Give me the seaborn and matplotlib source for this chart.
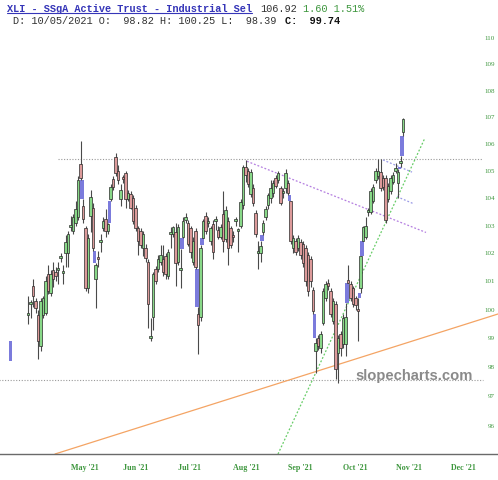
import numpy as np
import pandas as pd
import matplotlib
matplotlib.use("Agg")
import matplotlib.pyplot as plt
from matplotlib.ticker import NullLocator
from matplotlib.lines import Line2D
from matplotlib.transforms import ScaledTranslation
import seaborn as sns

# ---- daily candles (XLI, Apr 9 .. Nov 5 2021) ----
opens = [99.8, 100.2, 100.85, 100.3, 99.8, 98.75, 99.8, 99.9, 101.25, 100.6,
         101.4, 101.35, 101.4, 101.85, 101.3, 102.0, 102.0, 102.95, 102.8, 103.1,
         103.3, 105.25, 103.7, 102.9, 100.75, 103.35, 103.65, 101.1, 101.85, 102.4,
         102.9, 103.25, 102.8, 103.95, 104.7, 105.5, 105.0, 103.95, 104.75, 104.9,
         103.95, 104.15, 104.0, 103.65, 102.9, 102.8, 102.2, 102.2, 101.7, 99.0,
         99.75, 101.45, 101.45, 101.7, 101.8, 101.9, 101.2, 102.7, 102.7, 102.75,
         101.7, 101.4, 102.6, 103.2, 103.1, 102.9, 101.7, 102.8, 99.85, 99.75,
         102.55, 103.35, 103.1, 102.45, 103.05, 103.15, 102.85, 102.6, 103.4, 102.5,
         103.15, 102.9, 102.65, 103.15, 102.8, 103.0, 103.75, 105.15, 105.0, 104.15,
         104.35, 103.45, 102.0, 102.0, 102.75, 103.3, 103.75, 104.0, 104.2, 104.75,
         104.65, 104.35, 104.2, 104.35, 104.55, 103.9, 102.2, 102.45, 102.2, 102.4,
         102.35, 102.2, 101.95, 101.8, 100.7, 98.55, 99.0, 98.65, 99.55, 100.4,
         100.95, 100.65, 99.6, 100.2, 98.5, 99.15, 98.8, 98.82, 101.05, 100.9,
         100.75, 100.4, 100.0, 100.75, 102.45, 102.6, 103.5, 103.5, 103.9, 104.65,
         104.8, 104.95, 104.75, 104.75, 103.95, 104.25, 104.6, 105.0, 104.55, 105.3,
         106.45]
highs = [100.5, 100.35, 101.1, 100.4, 100.0, 100.4, 100.5, 101.2, 101.6, 101.4,
         101.7, 101.5, 101.7, 102.0, 101.6, 102.65, 102.8, 103.35, 103.4, 103.9,
         104.8, 106.1, 103.95, 103.0, 102.7, 104.3, 103.8, 101.65, 102.1, 102.7,
         103.3, 103.6, 103.1, 104.5, 104.8, 105.65, 105.2, 104.5, 104.85, 105.0,
         104.3, 104.25, 104.1, 103.75, 103.0, 102.9, 102.8, 102.35, 101.8, 99.7,
         101.35, 101.55, 101.95, 102.3, 102.3, 102.0, 102.15, 102.95, 103.0, 103.1,
         103.05, 102.15, 103.3, 103.45, 103.2, 103.0, 102.6, 102.9, 100.1, 102.3,
         103.25, 103.5, 103.3, 103.0, 103.2, 103.35, 103.0, 103.05, 104.25, 103.7,
         103.3, 103.0, 102.8, 103.3, 102.9, 103.95, 105.2, 105.4, 105.1, 105.05,
         104.5, 103.55, 102.45, 102.45, 103.2, 103.7, 104.2, 104.65, 104.65, 104.85,
         105.0, 104.45, 104.35, 105.05, 104.65, 103.9, 102.65, 102.55, 102.65, 102.5,
         102.45, 102.3, 102.05, 101.9, 100.8, 99.0, 99.1, 99.25, 100.75, 101.0,
         101.1, 100.75, 100.4, 100.3, 99.1, 99.25, 99.85, 100.25, 101.6, 101.0,
         100.85, 100.5, 100.4, 101.9, 103.0, 103.3, 103.65, 104.35, 104.5, 105.1,
         105.45, 105.45, 104.85, 104.85, 104.55, 104.85, 104.95, 105.3, 105.05, 105.55,
         106.98]
lows = [99.5, 99.7, 100.1, 99.9, 98.3, 98.55, 99.7, 99.8, 100.55, 100.5,
        100.8, 101.0, 100.9, 101.7, 100.9, 101.5, 101.5, 102.8, 102.7, 103.0,
        103.2, 104.65, 103.1, 100.65, 100.6, 102.75, 102.1, 100.05, 101.5, 102.05,
        102.8, 102.6, 102.7, 103.9, 104.3, 104.8, 104.5, 103.7, 104.55, 103.65,
        103.9, 103.6, 103.05, 102.8, 101.95, 102.2, 101.9, 101.7, 99.35, 98.9,
        99.3, 100.9, 101.35, 101.6, 101.2, 101.1, 101.1, 102.2, 102.6, 100.85,
        101.6, 100.75, 102.55, 103.1, 102.25, 101.85, 101.6, 101.45, 98.45, 99.6,
        102.55, 102.7, 102.95, 102.3, 101.8, 102.85, 102.5, 102.5, 102.05, 102.4,
        101.6, 102.2, 102.4, 103.0, 102.05, 102.9, 103.6, 104.6, 104.4, 104.05,
        103.7, 102.6, 101.45, 101.7, 102.65, 103.2, 103.6, 103.8, 104.05, 104.35,
        104.55, 103.75, 104.0, 104.2, 104.1, 102.35, 102.0, 101.95, 102.1, 101.8,
        101.5, 100.85, 100.5, 100.8, 99.85, 97.8, 98.6, 98.5, 99.45, 100.3,
        100.7, 99.75, 99.5, 97.6, 97.45, 98.4, 98.65, 98.39, 100.95, 100.3,
        100.1, 100.0, 98.9, 100.6, 102.45, 102.5, 103.35, 103.4, 103.8, 104.55,
        104.7, 104.25, 104.3, 103.1, 103.85, 104.15, 104.5, 104.9, 104.0, 105.15,
        106.3]
closes = [99.85, 100.25, 100.5, 100.05, 98.9, 100.3, 100.4, 101.0, 100.65, 101.25,
          101.1, 101.2, 101.45, 101.9, 101.35, 102.4, 102.7, 103.0, 103.3, 103.6,
          104.65, 104.75, 103.25, 100.75, 102.55, 104.05, 102.2, 101.6, 101.8, 102.45,
          103.15, 102.8, 103.05, 104.4, 104.4, 104.9, 104.65, 104.3, 104.7, 103.95,
          104.2, 103.65, 103.15, 102.9, 102.45, 102.3, 102.7, 101.85, 100.2, 99.05,
          101.25, 101.0, 101.8, 101.95, 101.35, 101.25, 102.05, 102.75, 102.95, 101.65,
          102.95, 101.45, 103.15, 103.3, 102.35, 102.05, 102.45, 101.5, 99.45, 102.2,
          103.15, 102.8, 103.15, 102.9, 102.05, 103.2, 102.6, 102.95, 102.45, 103.55,
          102.2, 102.3, 102.6, 103.2, 102.85, 103.85, 105.15, 104.85, 104.5, 104.95,
          103.8, 102.7, 102.05, 102.25, 103.1, 103.6, 104.1, 104.35, 104.55, 104.45,
          104.9, 103.8, 104.25, 104.9, 104.2, 102.45, 102.55, 102.05, 102.55, 101.95,
          101.65, 101.0, 100.65, 101.0, 99.95, 98.85, 98.75, 99.15, 100.65, 100.9,
          100.85, 99.85, 100.3, 97.95, 99.0, 98.65, 99.7, 99.74, 100.95, 100.4,
          100.2, 100.15, 99.95, 101.9, 102.95, 103.0, 103.55, 104.25, 104.4, 105.0,
          105.0, 104.35, 104.4, 103.2, 104.45, 104.75, 104.85, 105.1, 104.95, 105.32,
          106.92]
last_day = "2021-11-05"

# open price gaps (blue boxes): slot between candles, low, high
gap_pos = [-7, 21.5, 26.5, 32.5, 61.5, 67.5, 69.5, 93.5, 104.5, 114.5, 127.5, 132.5, 133.5, 148.5, 149.5]
gap_low = [98.2, 103.95, 101.65, 103.1, 102.15, 100.1, 102.3, 102.45, 103.9, 99.0, 100.25, 100.4, 101.9, 105.05, 105.55]
gap_high = [98.9, 104.65, 102.1, 103.9, 102.55, 101.45, 102.55, 102.65, 104.1, 99.85, 100.95, 100.6, 102.45, 105.15, 106.3]

# drawn lines: bar position and price at each end
resist_x, resist_y = [12, 182], [105.45, 105.45]
support_x, support_y = [-12, 182], [97.55, 97.55]
channel_x, channel_y = [87.6, 159.2], [105.35, 102.75]
chan_top_x, chan_top_y = [142, 153.6], [105.4, 104.95]
chan_bot_x, chan_bot_y = [147.6, 154], [104.05, 103.8]
uptrend_x, uptrend_y = [100, 158.8], [95.06, 106.22]
longtrend_x, longtrend_y = [10.8, 188], [95.06, 99.85]

month_labels = ["May '21", "Jun '21", "Jul '21", "Aug '21", "Sep '21", "Oct '21", "Nov '21", "Dec '21"]
month_starts = ["2021-05-03", "2021-06-01", "2021-07-01", "2021-08-02",
                "2021-09-01", "2021-10-01", "2021-11-01", "2021-12-01"]
y_ticks = list(range(96, 111))

# ---- build frame ----
days = pd.bdate_range(end=last_day, periods=len(closes))
df = pd.DataFrame({"day": days, "open": opens, "high": highs, "low": lows, "close": closes})
df["pos"] = np.arange(len(df))
all_days = pd.bdate_range(start=days[0], end="2021-12-31")
month_pos = [all_days.get_loc(pd.Timestamp(m)) for m in month_starts]

sns.set_theme(style="white")
GREEN_TXT = "#3d963d"
UP = "#88d888"
DOWN = "#dc9a9a"
GAP = "#7b7bdc"

fig = plt.figure(figsize=(4.98, 4.80), dpi=100)
ax = fig.add_axes([0, 1 - 454 / 480, 1, (454 - 30) / 480])
ax.set_yscale("log")
ax.set_xlim(-11.2, 188)
ax.set_ylim(95.06, 110.32)

# reference lines
ax.plot(resist_x, resist_y, color="#9a9a9a", lw=0.8, ls=(0, (1, 1.5)), zorder=1)
ax.plot(support_x, support_y, color="#9a9a9a", lw=0.8, ls=(0, (1, 1.5)), zorder=1)
sns.lineplot(x=channel_x, y=channel_y, ax=ax, color="#b47ee0", lw=0.9, ls=(0, (1.5, 1.5)), zorder=1)
sns.lineplot(x=chan_top_x, y=chan_top_y, ax=ax, color="#9a9ae6", lw=0.9, ls=(0, (1.5, 1.5)), zorder=1)
sns.lineplot(x=chan_bot_x, y=chan_bot_y, ax=ax, color="#9a9ae6", lw=0.9, ls=(0, (1.5, 1.5)), zorder=1)
sns.lineplot(x=uptrend_x, y=uptrend_y, ax=ax, color="#66cc66", lw=0.9, ls=(0, (1.5, 1.5)), zorder=1)
sns.lineplot(x=longtrend_x, y=longtrend_y, ax=ax, color="#f4a464", lw=0.9, zorder=1)

# gaps
gap_h = np.array(gap_high) - np.array(gap_low)
ax.bar(gap_pos, gap_h, bottom=gap_low, width=1.4, color=GAP, edgecolor="none", zorder=2)

# candles
up = df["close"] >= df["open"]
body_lo = df[["open", "close"]].min(axis=1)
body_h = (df["close"] - df["open"]).abs().clip(lower=0.07)
ax.vlines(df["pos"], df["low"], df["high"], color="#4a4a4a", lw=0.8, zorder=3)
ax.bar(df["pos"][up], body_h[up], bottom=body_lo[up], width=0.95,
       color=UP, edgecolor="#2a2a2a", linewidth=0.5, zorder=4)
ax.bar(df["pos"][~up], body_h[~up], bottom=body_lo[~up], width=0.95,
       color=DOWN, edgecolor="#2a2a2a", linewidth=0.5, zorder=4)

# axes styling
for side in ["top", "left", "right"]:
    ax.spines[side].set_visible(False)
ax.spines["bottom"].set_color("#6a6a6a")
ax.spines["bottom"].set_linewidth(1.0)
ax.grid(False)

ax.yaxis.tick_right()
ax.set_yticks(y_ticks)
ax.set_yticklabels([str(v) for v in y_ticks])
ax.yaxis.set_minor_locator(NullLocator())
ax.tick_params(axis="y", length=0, pad=-2.2, labelsize=5, labelcolor=GREEN_TXT)
for lbl in ax.get_yticklabels():
    lbl.set_ha("right")
    lbl.set_family("Liberation Serif")

ax.set_xticks(month_pos)
ax.set_xticklabels(month_labels)
ax.xaxis.set_minor_locator(NullLocator())
ax.tick_params(axis="x", length=0, pad=7, labelsize=5.8, labelcolor=GREEN_TXT)
shift = ScaledTranslation(2.5 / 100, 0, fig.dpi_scale_trans)
for lbl in ax.get_xticklabels():
    lbl.set_ha("left")
    lbl.set_family("Liberation Serif")
    lbl.set_fontweight("bold")
    lbl.set_transform(lbl.get_transform() + shift)
ax.set_xlabel("")
ax.set_ylabel("")

# watermark
fig.text(414 / 498, 1 - 376 / 480, "slopecharts.com", ha="center", va="center",
         fontsize=10.6, fontweight="bold", color="#8a8a8a", family="Liberation Sans", zorder=10)

# header
def px(x, y):
    return x / 498, 1 - y / 480

mono = dict(family="Liberation Mono", fontsize=7.4, va="center")
title = fig.text(*px(7, 8.5), "XLI - SSgA Active Trust - Industrial Sel", color="#3535b8",
                 fontweight="bold", **mono)
fig.text(*px(7 + 41 * 6.17, 8.5), "106.92", color="#333333", **mono)
fig.text(*px(7 + 48 * 6.17, 8.5), "1.60 1.51%", color="#3d963d", **mono)
fig.text(*px(13.3, 21), "D: 10/05/2021 O:  98.82 H: 100.25 L:  98.39", color="#333333", **mono)
fig.text(*px(13.3 + 44 * 6.17, 21), "C:  99.74", color="#111111", fontweight="bold", **mono)

fig.canvas.draw()
bb = title.get_window_extent()
x0, y0 = fig.transFigure.inverted().transform((bb.x0, bb.y0))
x1, _ = fig.transFigure.inverted().transform((bb.x1, bb.y0))
fig.add_artist(Line2D([x0, x1], [y0 + 0.001, y0 + 0.001], transform=fig.transFigure,
                      color="#3535b8", lw=0.8))

fig.savefig("out.png", dpi=100)
